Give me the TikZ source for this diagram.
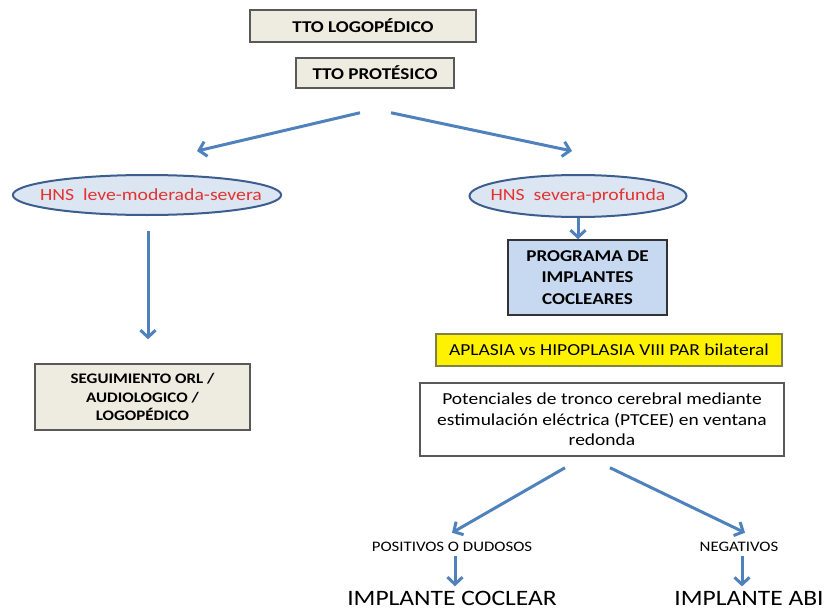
\documentclass[tikz,border=0pt]{standalone}
\usepackage{fontspec}
\setmainfont{Carlito}[FakeStretch=1.16]
\usetikzlibrary{arrows.meta,shapes.geometric}
\definecolor{beige}{HTML}{EEECE1}
\definecolor{rahmen}{HTML}{595959}
\definecolor{hellblau}{HTML}{DCE6F2}
\definecolor{progblau}{HTML}{C6D9F1}
\definecolor{navy}{HTML}{3B5E8E}
\definecolor{pfeil}{HTML}{4F81BD}
\definecolor{rot}{HTML}{E5322F}
\definecolor{gelbrand}{HTML}{80804A}
\begin{document}
\begin{tikzpicture}[x=1pt, y=-1pt, align=center,
		kasten/.style={draw=rahmen, line width=1.5pt, fill=beige, inner sep=0pt, font=\bfseries\fontsize{16.5}{20}\selectfont},
		oval/.style={ellipse, draw=navy, line width=2pt, fill=hellblau, text=rot, inner xsep=-20pt, inner ysep=0pt, font=\fontsize{17}{20}\selectfont},
		pf/.style={draw=pfeil, line width=3pt, -{Straight Barb[length=7pt,width=15pt]}},
		klein/.style={font=\fontsize{14.5}{17}\selectfont},
		gross/.style={font=\fontsize{22}{26}\selectfont}]
		\useasboundingbox (0,0) rectangle (825,610);
		\node[kasten, minimum width=226pt, minimum height=32pt] (logo) at (363,26) {TTO LOGOPÉDICO};
		\node[kasten, minimum width=158pt, minimum height=30pt] (protes) at (375,73) {TTO PROTÉSICO};
		\node[oval, minimum width=266pt, minimum height=40pt] (hnsl) at (147,195) {\hspace{8pt}HNS\ \ leve-moderada-severa};
		\node[oval, minimum width=217pt, minimum height=42pt] (hnsr) at (578,196) {HNS\ \ severa-profunda};
		\node[kasten, fill=progblau, draw=black!80, minimum width=159pt, minimum height=75pt, font=\bfseries\fontsize{16.5}{21.5}\selectfont] (prog) at (587.5,277.5) {PROGRAMA DE\\IMPLANTES\\COCLEARES};
		\node[kasten, minimum width=215pt, minimum height=66pt, font=\bfseries\fontsize{14.6}{18.5}\selectfont] (seg) at (142.5,397) {SEGUIMIENTO ORL /\\AUDIOLOGICO /\\LOGOPÉDICO};
		\node[draw=gelbrand, line width=1.5pt, fill=yellow, minimum width=346pt, minimum height=32pt, inner sep=0pt, font=\fontsize{16.8}{20}\selectfont] (apl) at (609,350) {APLASIA vs HIPOPLASIA VIII PAR bilateral};
		\node[draw=rahmen, line width=1.5pt, fill=white, minimum width=364pt, minimum height=73pt, inner sep=0pt, font=\fontsize{16.8}{20.5}\selectfont] (pot) at (602,419.5) {Potenciales de tronco cerebral mediante\\estimulación eléctrica (PTCEE) en ventana\\redonda};
		\node[klein] (pos) at (452,547) {POSITIVOS O DUDOSOS};
		\node[klein] (neg) at (739,547) {NEGATIVOS};
		\node[gross] (ic) at (452,598) {IMPLANTE COCLEAR};
		\node[gross] (abi) at (749,598) {IMPLANTE ABI};
		\draw[pf] ([xshift=-15pt,yshift=-24pt]protes.south) -- ([xshift=50pt,yshift=23pt]hnsl.north);
		\draw[pf] ([xshift=16pt,yshift=-24pt]protes.south) -- ([xshift=-6pt,yshift=23pt]hnsr.north);
		\draw[pf] ([xshift=1pt,yshift=-15pt]hnsl.south) -- ([xshift=5.5pt,yshift=24pt]seg.north);
		\draw[pf] (hnsr.south) -- (hnsr.south |- prog.north);
		\draw[pf] ([xshift=-37pt,yshift=-11pt]pot.south) -- ([yshift=6pt]pos.north);
		\draw[pf] ([xshift=8pt,yshift=-11pt]pot.south) -- ([xshift=6pt,yshift=6pt]neg.north);
		\draw[pf] ([xshift=3pt,yshift=-1pt]pos.south) -- ([xshift=3pt,yshift=1pt]ic.north);
		\draw[pf] ([xshift=3pt,yshift=-1pt]neg.south) -- ([xshift=-7pt,yshift=1pt]abi.north);
	\end{tikzpicture}
\end{document}
